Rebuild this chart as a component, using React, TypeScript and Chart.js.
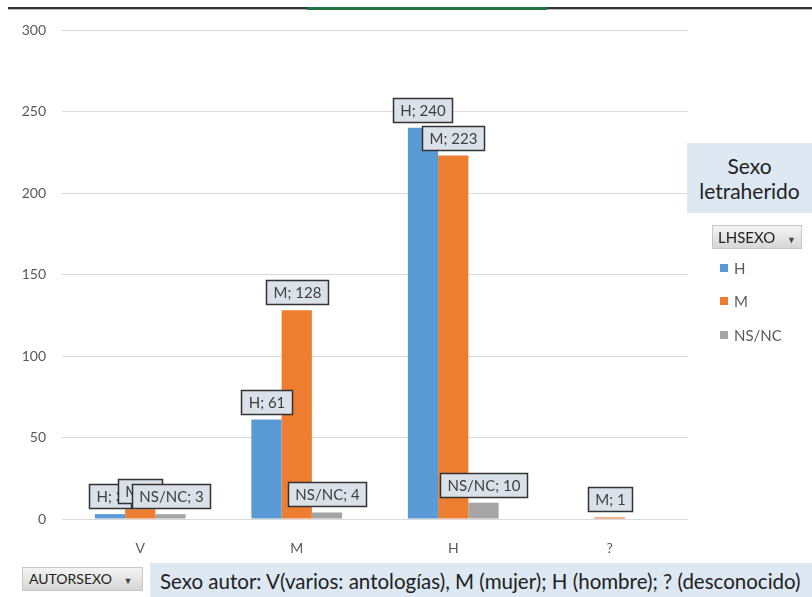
import React, { useEffect, useRef } from "react";
import { Chart, registerables } from "chart.js";

Chart.register(...registerables);

const categories = ["V", "M", "H", "?"];
const seriesNames = ["H", "M", "NS/NC"];
const seriesH = [3, 61, 240, null];
const seriesM = [6, 128, 223, 1];
const seriesNSNC = [3, 4, 10, null];
const seriesColors = ["#5b9bd5", "#ed7d31", "#a5a5a5"];
const yTicks = { min: 0, max: 300, step: 50 };

const FONT = "Lato, 'Open Sans', sans-serif";

const labelPlugin = {
  id: "boxLabels",
  afterDatasetsDraw(chart: any) {
    const ctx = chart.ctx;
    ctx.save();
    ctx.font = `15px ${FONT}`;
    chart.data.datasets.forEach((ds: any, di: number) => {
      const meta = chart.getDatasetMeta(di);
      meta.data.forEach((bar: any, i: number) => {
        const v = ds.data[i];
        if (v == null) return;
        const text = `${seriesNames[di]}; ${v}`;
        const w = Math.round(ctx.measureText(text).width + 14);
        const h = 24;
        const x = Math.round(bar.x - w / 2) + 0.5;
        const y = Math.round(bar.y - 6 - h) + 0.5;
        ctx.fillStyle = "#dbe1e9";
        ctx.fillRect(x, y, w, h);
        ctx.strokeStyle = "#333333";
        ctx.lineWidth = 1.5;
        ctx.strokeRect(x, y, w, h);
        ctx.fillStyle = "#404040";
        ctx.textAlign = "center";
        ctx.textBaseline = "middle";
        ctx.fillText(text, x + w / 2, y + h / 2 + 1);
      });
    });
    ctx.restore();
  },
};

export default function App() {
  const ref = useRef<HTMLCanvasElement | null>(null);

  useEffect(() => {
    if (!ref.current) return;
    const dataArrays = [seriesH, seriesM, seriesNSNC];
    const chart = new Chart(ref.current, {
      type: "bar",
      data: {
        labels: categories,
        datasets: seriesNames.map((name, i) => ({
          label: name,
          data: dataArrays[i],
          backgroundColor: seriesColors[i],
          barPercentage: 1,
          categoryPercentage: 0.58,
        })),
      },
      options: {
        responsive: false,
        animation: false,
        layout: { padding: { left: 0, right: 124, top: 30, bottom: 38 } },
        plugins: {
          legend: { display: false },
          tooltip: { enabled: false },
        },
        scales: {
          x: {
            grid: { display: false },
            border: { display: false },
            ticks: { color: "#595959", font: { size: 14, family: FONT }, padding: 13 },
            afterFit: (s: any) => {
              s.height = 40;
            },
          },
          y: {
            min: yTicks.min,
            max: yTicks.max,
            ticks: {
              stepSize: yTicks.step,
              color: "#595959",
              font: { size: 14, family: FONT },
              padding: 16,
            },
            grid: { color: "#d9d9d9", drawTicks: false },
            border: { display: false },
            afterFit: (s: any) => {
              s.width = 62;
            },
          },
        },
      },
      plugins: [labelPlugin],
    });
    return () => chart.destroy();
  }, []);

  const legendTop = [268, 301, 335];

  return (
    <div
      style={{
        position: "fixed",
        left: 0,
        top: 0,
        width: 812,
        height: 597,
        background: "#fff",
        overflow: "hidden",
        fontFamily: FONT,
      }}
    >
      <canvas ref={ref} width={812} height={597} style={{ position: "absolute", left: 0, top: 0 }} />
      {/* top sheet border */}
      <div style={{ position: "absolute", left: 8, top: 7, width: 804, height: 2, background: "#333" }} />
      <div style={{ position: "absolute", left: 8, top: 9, width: 804, height: 1, background: "#bbb" }} />
      <div style={{ position: "absolute", left: 307, top: 7, width: 240, height: 3, background: "#217346" }} />
      {/* legend title */}
      <div
        style={{
          position: "absolute",
          left: 687,
          top: 143,
          width: 125,
          height: 70,
          background: "#dde8f3",
          color: "#222",
          fontSize: 21,
          lineHeight: "25px",
          textAlign: "center",
          paddingTop: 10,
          boxSizing: "border-box",
          whiteSpace: "nowrap",
        }}
      >
        Sexo
        <br />
        letraherido
      </div>
      {/* LHSEXO button */}
      <div
        style={{
          position: "absolute",
          left: 712,
          top: 225,
          width: 90,
          height: 24,
          background: "linear-gradient(#f4f4f4, #d6d6d6)",
          border: "1px solid #c8c8c8",
          boxSizing: "border-box",
          fontSize: 15,
          color: "#222",
          lineHeight: "22px",
          paddingLeft: 5,
          whiteSpace: "nowrap",
        }}
      >
        LHSEXO <span style={{ fontSize: 9, marginLeft: 8, color: "#444" }}>▼</span>
      </div>
      {seriesNames.map((n, i) => (
        <div
          key={n}
          style={{
            position: "absolute",
            left: 720,
            top: legendTop[i] - 9,
            height: 18,
            fontSize: 15,
            color: "#595959",
            lineHeight: "18px",
            display: "flex",
            alignItems: "center",
          }}
        >
          <span style={{ display: "inline-block", width: 8, height: 8, background: seriesColors[i], marginRight: 6 }} />
          {n}
        </div>
      ))}
      {/* bottom */}
      <div
        style={{
          position: "absolute",
          left: 22,
          top: 567,
          width: 121,
          height: 24,
          background: "linear-gradient(#f4f4f4, #d6d6d6)",
          border: "1px solid #c8c8c8",
          boxSizing: "border-box",
          fontSize: 14,
          color: "#222",
          lineHeight: "22px",
          paddingLeft: 6,
          whiteSpace: "nowrap",
        }}
      >
        AUTORSEXO <span style={{ fontSize: 9, marginLeft: 8, color: "#444" }}>▼</span>
      </div>
      <div
        style={{
          position: "absolute",
          left: 150,
          top: 563,
          width: 662,
          height: 34,
          background: "#dde8f3",
          color: "#222",
          fontSize: 20.5,
          lineHeight: "36px",
          paddingLeft: 10,
          boxSizing: "border-box",
          whiteSpace: "nowrap",
        }}
      >
        Sexo autor: V(varios: antologías), M (mujer); H (hombre); ? (desconocido)
      </div>
    </div>
  );
}
